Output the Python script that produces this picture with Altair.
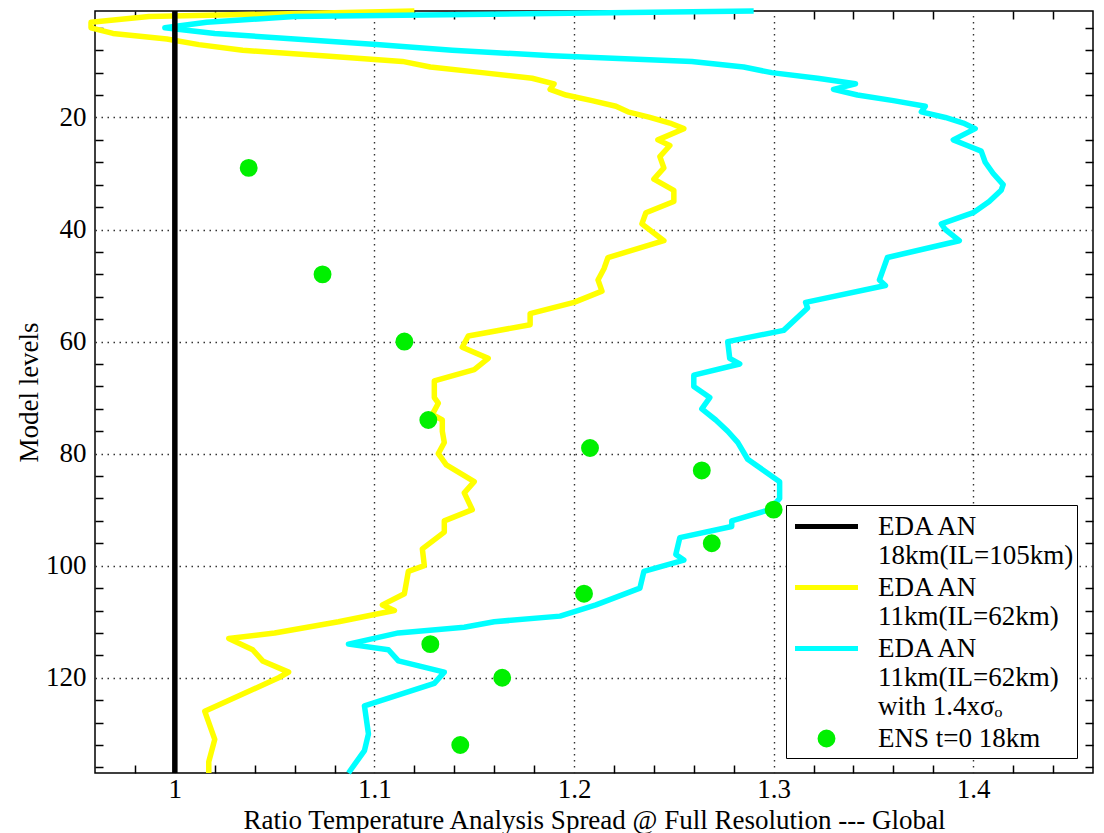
import altair as alt
import pandas as pd

FONT = "Liberation Serif"
FS = 27

# ---- data ----
yellow_levels = [1, 2, 3, 4, 5, 6, 7, 8, 9, 10, 11, 12, 13, 14, 15, 16, 17, 18, 19, 20,
                 21, 22, 24, 25, 27, 29, 31, 33, 35, 37, 39, 42, 45, 47, 49, 51, 53, 55,
                 57, 59, 61, 63, 65, 67, 70, 71, 73, 74, 76, 78, 80, 82, 85, 87, 90, 92,
                 94, 97, 100, 101, 105, 107, 108, 110, 112, 113, 115, 117, 119, 120, 126,
                 131, 135, 137]
yellow_values = [1.120, 0.987, 0.958, 0.958, 0.969, 0.996, 1.012, 1.034, 1.074, 1.114,
                 1.128, 1.154, 1.179, 1.190, 1.188, 1.196, 1.209, 1.221, 1.227, 1.238,
                 1.248, 1.255, 1.242, 1.248, 1.243, 1.245, 1.240, 1.250, 1.250, 1.236,
                 1.234, 1.245, 1.217, 1.215, 1.212, 1.214, 1.200, 1.178, 1.178, 1.147,
                 1.144, 1.157, 1.150, 1.130, 1.130, 1.132, 1.129, 1.134, 1.134, 1.135,
                 1.132, 1.136, 1.150, 1.145, 1.149, 1.135, 1.135, 1.124, 1.125, 1.117,
                 1.115, 1.104, 1.110, 1.082, 1.050, 1.027, 1.039, 1.044, 1.057, 1.052,
                 1.015, 1.020, 1.017, 1.017]

cyan_levels = [1, 2, 3, 4, 5, 6, 7, 8, 9, 10, 11, 12, 13, 14, 15, 16, 17, 18, 19, 20,
               21, 22, 24, 25, 26, 28, 30, 32, 33, 35, 37, 39, 40, 42, 45, 49, 50, 53,
               54, 58, 60, 63, 64, 66, 68, 70, 72, 74, 76, 78, 81, 83, 85, 88, 90, 92,
               93, 95, 98, 99, 101, 104, 107, 109, 110, 111, 112, 114, 115, 117, 119,
               121, 125, 130, 133, 137]
cyan_values = [1.290, 1.060, 1.016, 0.995, 1.020, 1.060, 1.101, 1.139, 1.189, 1.259,
               1.285, 1.299, 1.322, 1.341, 1.330, 1.342, 1.360, 1.376, 1.374, 1.386,
               1.395, 1.401, 1.390, 1.397, 1.404, 1.406, 1.410, 1.415, 1.414, 1.408,
               1.400, 1.384, 1.386, 1.393, 1.357, 1.353, 1.356, 1.316, 1.317, 1.305,
               1.277, 1.278, 1.283, 1.260, 1.260, 1.268, 1.264, 1.271, 1.277, 1.282,
               1.287, 1.295, 1.303, 1.303, 1.298, 1.279, 1.279, 1.253, 1.251, 1.255,
               1.235, 1.233, 1.211, 1.193, 1.160, 1.145, 1.112, 1.087, 1.107, 1.112,
               1.135, 1.130, 1.095, 1.097, 1.095, 1.087]

black_levels = [1, 137]
black_values = [1.0, 1.0]

ens_levels = [29, 48, 60, 74, 79, 83, 90, 96, 105, 114, 120, 132]
ens_values = [1.037, 1.074, 1.115, 1.127, 1.208, 1.264, 1.300, 1.269, 1.205, 1.128,
              1.164, 1.143]

S_BLACK = "EDA AN\n18km(IL=105km)"
S_YEL = "EDA AN\n11km(IL=62km)"
S_CYAN = "EDA AN\n11km(IL=62km)\nwith 1.4xσₒ"
S_ENS = "ENS t=0 18km"
series_names = [S_BLACK, S_YEL, S_CYAN, S_ENS]
series_colors = ["#000000", "#ffff00", "#00ffff", "#00f000"]
series_shapes = ["M-2,0L2,0", "M-2,0L2,0", "M-2,0L2,0",
                 "M0.41,0A0.41,0.41,0,1,1,-0.41,0A0.41,0.41,0,1,1,0.41,0Z"]
SYMBOL_SIZE = 992

x_major = [1.0, 1.1, 1.2, 1.3, 1.4]
y_major = [20, 40, 60, 80, 100, 120]
x_minor = [round(0.96 + 0.02 * i, 2) for i in range(1, 25)]
x_minor = [v for v in x_minor if round(v * 10, 6) != round(v * 10)]
y_minor = [v for v in range(4, 137, 4) if v % 20 != 0]

# ---- tables ----
lines_df = pd.concat([
    pd.DataFrame({"level": yellow_levels, "value": yellow_values, "series": S_YEL}),
    pd.DataFrame({"level": cyan_levels, "value": cyan_values, "series": S_CYAN}),
])
black_df = pd.DataFrame({"level": black_levels, "value": black_values, "series": S_BLACK})
ens_df = pd.DataFrame({"level": ens_levels, "value": ens_values, "series": S_ENS})

xscale = alt.Scale(domain=[0.96, 1.46], nice=False, zero=False)
yscale = alt.Scale(domain=[1, 137], reverse=True, nice=False, zero=False)

tick_common = dict(labels=False, grid=False, domain=False, title=None, tickSize=8,
                   tickColor="black", tickWidth=1.5, offset=-8)

main_x_axis = alt.Axis(orient="bottom", values=x_major, format="~g", grid=True,
                       gridDash=[1.5, 4.5], gridColor="#333333", gridWidth=1.4,
                       ticks=False, domain=False, labelFont=FONT, labelFontSize=FS,
                       labelColor="black", labelPadding=3, labelFlush=False,
                       title="Ratio Temperature Analysis Spread @ Full Resolution --- Global",
                       titleFont=FONT, titleFontSize=FS, titleFontWeight="normal",
                       titleColor="black", titleY=55, titleBaseline="alphabetic")
main_y_axis = alt.Axis(orient="left", values=y_major, grid=True,
                       gridDash=[1.5, 4.5], gridColor="#333333", gridWidth=1.4,
                       ticks=False, domain=False, labelFont=FONT, labelFontSize=FS,
                       labelColor="black", labelPadding=9, labelFlush=False,
                       title="Model levels", titleFont=FONT, titleFontSize=FS,
                       titleFontWeight="normal", titleColor="black", titleAngle=270,
                       titleX=-58, titleY=381, titleBaseline="alphabetic",
                       titleAlign="center")

lines = alt.Chart(lines_df).mark_line(strokeWidth=5.5, strokeJoin="round").encode(
    x=alt.X("value:Q", scale=xscale, axis=main_x_axis),
    y=alt.Y("level:Q", scale=yscale, axis=main_y_axis),
    color=alt.Color("series:N",
                    scale=alt.Scale(domain=[S_YEL, S_CYAN], range=series_colors[1:3]),
                    legend=None),
    order=alt.Order("level:Q"),
)

black = alt.Chart(black_df).mark_line(strokeWidth=5.5, color="black").encode(
    x=alt.X("value:Q", scale=xscale,
            axis=alt.Axis(orient="bottom", values=x_minor, **tick_common)),
    y=alt.Y("level:Q", scale=yscale,
            axis=alt.Axis(orient="left", values=y_minor, **tick_common)),
    order=alt.Order("level:Q"),
)

legend = alt.Legend(title=None, orient="none", legendX=691, legendY=494,
                    labelExpr="split(datum.label, '\\n')", labelFont=FONT,
                    labelFontSize=FS, labelColor="black", labelLimit=600,
                    strokeColor="black", fillColor="white", padding=3,
                    rowPadding=-3, labelOffset=33, symbolOffset=19,
                    symbolSize=SYMBOL_SIZE, symbolStrokeWidth=5, symbolOpacity=1)

points = alt.Chart(ens_df).mark_point(filled=True, size=SYMBOL_SIZE, strokeWidth=5,
                                      opacity=1).encode(
    x=alt.X("value:Q", scale=xscale,
            axis=alt.Axis(orient="top", values=x_minor, **tick_common)),
    y=alt.Y("level:Q", scale=yscale,
            axis=alt.Axis(orient="right", values=y_minor, **tick_common)),
    fill=alt.Fill("series:N", scale=alt.Scale(domain=series_names, range=series_colors),
                  legend=legend),
    stroke=alt.Stroke("series:N", scale=alt.Scale(domain=series_names, range=series_colors),
                      legend=legend),
    shape=alt.Shape("series:N", scale=alt.Scale(domain=series_names, range=series_shapes),
                    legend=legend),
)

chart = alt.layer(lines, black, points).resolve_axis(
    x="independent", y="independent"
).properties(
    width=998, height=762,
    autosize=alt.AutoSizeParams(type="none"),
    padding={"left": 95, "top": 11, "right": 11, "bottom": 60},
    background="white",
).configure_view(stroke="black", strokeWidth=1.5)

chart.save("out.html", embed_options={"renderer": "svg", "actions": False})
